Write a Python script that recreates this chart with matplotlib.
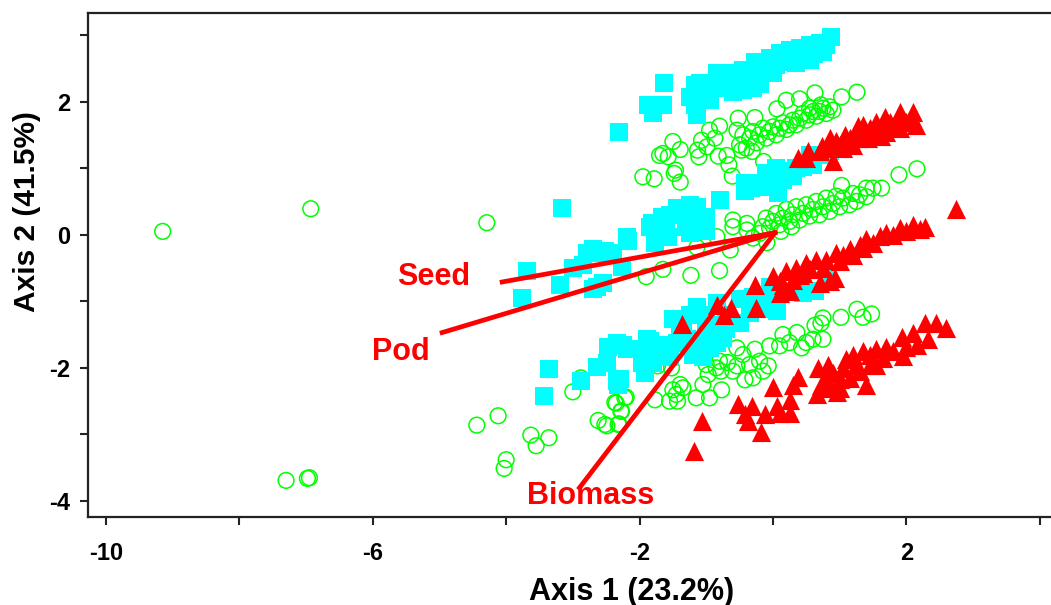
import numpy as np
import matplotlib
matplotlib.use('Agg')
import matplotlib.pyplot as plt

plt.rcParams['font.family'] = ['Liberation Sans', 'DejaVu Sans']

# Values, (axis 1, axis 2)
cyan_pts = [
    (0.87,2.97),(0.70,2.88),(0.55,2.85),(0.40,2.80),(0.25,2.77),(0.10,2.73),(-0.05,2.65),(-0.27,2.6),
    (-0.45,2.47),(-0.6,2.43),(-0.84,2.43),(-1.1,2.28),(-1.17,2.25),(-1.25,2.07),(-1.17,1.95),(-1.14,1.8),
    (-0.95,2.02),(-0.45,2.17),(-0.2,2.27),(0,2.43),(0.35,2.58),(0.55,2.62),(0.75,2.75),(-0.7,2.25),(-1.0,2.25),
    (0.8,2.85),(0.62,2.72),(0.45,2.7),(0.3,2.65),(0.18,2.6),(0.05,2.55),(-0.1,2.48),(-0.25,2.42),(-0.35,2.32),
    (-0.55,2.3),(-0.85,2.2),(-1.05,2.12),(-0.6,2.15),(-0.3,2.2),
    (-1.63,2.28),(-1.87,1.95),(-1.65,1.95),(-1.8,1.83),(-2.31,1.54),(-1.75,1.95),
    (-0.42,0.65),(-0.25,0.78),(-0.1,0.72),(-0.1,0.92),(0.05,1.0),(0.2,0.95),(0.35,1.0),(0.55,1.2),(0.85,1.25),
    (0.7,1.2),(0.0,0.75),(-0.33,0.7),(0.08,0.63),(-0.42,0.78),(0.15,0.82),(0.3,0.88),(0.45,1.02),(0.6,1.05),
    (-0.8,0.52),(-1.44,0.4),(-1.67,0.27),(-1.82,0.18),(-1.14,0.42),(-1.0,0.27),(-1.3,0.12),(-2.19,-0.03),
    (-1.25,0.45),(-1.05,0.2),(-1.4,0.3),(-1.0,0.05),(-1.3,0.3),(-1.55,0.3),(-1.6,0.12),
    (-2.17,-0.1),(-1.77,-0.12),(-1.57,-0.03),(-1.25,0.03),(-2.52,-0.25),(-2.26,-0.48),(-2.55,-0.72),
    (-3.69,-0.54),(-3.76,-0.95),(-3.16,0.4),(-3.19,-0.75),(-3.0,-0.5),(-2.79,-0.27),(-2.7,-0.22),(-2.56,-0.27),
    (-2.64,-0.78),(-2.7,-0.82),(-2.4,-0.27),(-1.84,0.12),(-2.85,-0.45),
    (-3.36,-2.02),(-3.43,-2.43),(-2.88,-2.2),(-2.32,-2.25),(-2.29,-2.17),(-2.64,-1.98),(-2.47,-1.68),(-2.34,-1.62),
    (-2.19,-1.72),(-1.96,-1.92),(-1.89,-1.57),(-2.34,-2.2),(-2.49,-1.92),(-2.25,-1.65),(-1.92,-2.07),(-2.0,-1.72),
    (-1.84,-1.6),(-1.44,-1.62),(-1.05,-1.83),(-0.84,-1.62),(-1.09,-1.62),(-1.5,-1.27),(-1.14,-1.09),(-0.84,-1.02),
    (-0.5,-0.97),(-0.5,-1.32),(0.06,-1.15),(-0.2,-1.12),(-0.05,-0.78),(0.45,-0.87),(0.63,-0.85),(0.81,-0.63),
    (-0.3,-0.93),(-1.35,-1.38),(-1.0,-1.42),(-1.29,-1.57),(-1.54,-1.83),(-1.8,-1.92),(-0.7,-1.42),
    (-1.25,-1.2),(-1.0,-1.2),(-0.7,-1.2),(-0.9,-1.35),(-0.35,-1.18),(-0.1,-1.0),(0.2,-0.85),(-1.6,-1.65),(-1.2,-1.8),
    (-1.75,-1.75),(-0.95,-1.7),(-0.75,-1.55),(-1.4,-1.45),
]

green_pts = [
    (1.26,2.14),(1.03,2.07),(0.63,2.13),(0.40,2.04),(0.2,2.02),(0.06,1.89),
    (-0.5,1.35),(-0.45,1.5),(-0.4,1.3),(-0.35,1.45),(-0.3,1.55),(-0.25,1.38),(-0.2,1.5),(-0.15,1.6),(-0.1,1.45),
    (-0.05,1.55),(0.0,1.62),(0.05,1.5),(0.1,1.6),(0.15,1.68),(0.2,1.58),(0.25,1.65),(0.3,1.72),(0.35,1.65),
    (0.4,1.75),(0.45,1.82),(0.5,1.72),(0.55,1.8),(0.6,1.85),(0.65,1.78),(0.7,1.85),(0.75,1.9),(0.8,1.82),
    (0.85,1.92),(0.9,1.87),(0.72,1.95),(0.55,1.9),
    (-0.52,1.75),(-0.27,1.76),(-0.54,1.57),(-0.8,1.63),(-0.95,1.57),(-0.87,1.45),(-1.07,1.42),(-0.99,1.32),
    (-1.11,1.17),(-1.13,1.27),(-0.69,1.19),(-0.82,1.18),(-0.66,1.05),(-0.61,0.88),(-0.47,1.27),(-0.31,1.25),
    (-0.14,1.1),(-1.39,1.28),(-1.5,1.4),(-1.57,1.17),(-1.65,1.22),(-1.7,1.19),(-1.48,0.92),(-1.46,0.97),
    (-1.39,0.79),(-1.95,0.87),(-1.78,0.84),
    (2.16,0.99),(1.89,0.9),(1.63,0.7),(1.5,0.7),(1.4,0.7),(1.4,0.57),(1.03,0.74),
    (1.3,0.6),(1.25,0.5),(1.2,0.62),(1.15,0.45),(1.05,0.55),(1.0,0.42),(0.95,0.58),(0.9,0.47),(0.85,0.35),
    (0.8,0.55),(0.75,0.42),(0.7,0.3),(0.65,0.5),(0.6,0.38),(0.55,0.28),(0.5,0.45),(0.45,0.32),(0.4,0.22),
    (0.35,0.42),(0.3,0.3),(0.25,0.2),(0.2,0.38),(0.15,0.25),(0.1,0.15),(0.05,0.32),(0.0,0.2),(-0.05,0.1),
    (-0.1,0.25),(-0.15,0.12),(-0.2,0.02),(0.12,0.05),(0.28,0.12),
    (-0.8,-0.54),(-1.23,-0.61),(-1.65,-0.52),(-1.9,-0.63),(-0.64,-0.23),(-0.09,-0.12),(-0.84,-0.03),(-0.6,0.22),
    (-0.6,0.12),(-0.39,0.17),(-0.39,0.07),(-1.14,-0.19),(-0.3,-0.05),
    (1.48,-1.19),(1.35,-1.24),(1.26,-1.12),(1.02,-1.24),(0.75,-1.25),(0.72,-1.33),(0.63,-1.36),(0.75,-1.57),(0.6,-1.57),
    (0.43,-1.7),(0.36,-1.47),(0.15,-1.5),(0.1,-1.67),(-0.05,-1.67),(0.25,-1.62),(0.5,-1.62),(-0.54,-1.7),(-0.27,-1.72),
    (-0.45,-1.8),(-0.2,-1.9),(-0.07,-1.97),(-0.8,-1.9),(-0.68,-1.92),(-0.54,-1.97),(-0.85,-2.0),(-0.78,-2.05),
    (-0.97,-2.1),(-1.0,-1.95),(-0.42,-2.18),(-0.3,-2.15),(-0.77,-2.33),(-1.05,-2.25),(-0.95,-2.45),(-1.15,-2.45),
    (-1.39,-2.25),(-1.5,-2.33),(-1.55,-2.5),(-1.43,-2.5),(-1.77,-2.48),(-1.52,-2.0),(-1.73,-1.97),
    (-1.35,-2.3),(-1.45,-2.4),(-0.6,-2.05),(-0.35,-1.95),(-0.15,-2.05),
    (-2.22,-2.45),(-2.37,-2.52),(-2.27,-2.65),(-2.32,-2.85),(-2.52,-2.85),
    (-4.29,0.18),(-4.44,-2.86),(-4.12,-2.72),(-3.63,-3.01),(-3.36,-3.05),(-3.55,-3.17),(-4.0,-3.38),(-4.03,-3.51),
    (-3.0,-2.36),(-2.88,-2.15),(-2.62,-2.79),(-2.49,-2.87),(-2.31,-2.84),(-2.28,-2.65),(-2.35,-2.53),(-2.2,-2.44),
    (-9.15,0.05),(-6.93,0.39),(-7.3,-3.69),(-6.95,-3.65),(-6.98,-3.66),
]

red_pts = [
    (2.1,1.85),(1.9,1.85),(2.1,1.7),(2.15,1.65),(2.0,1.7),(1.85,1.65),(1.75,1.7),(1.68,1.77),(1.6,1.6),(1.55,1.7),
    (1.45,1.6),(1.35,1.65),(1.27,1.63),(1.3,1.45),(1.15,1.45),(1.08,1.5),(0.95,1.4),(0.85,1.45),(0.73,1.33),
    (0.7,1.25),(0.9,1.1),(0.52,1.25),(0.37,1.15),(0.5,1.15),(1.05,1.3),(1.2,1.35),(1.5,1.5),(1.7,1.55),(1.9,1.6),
    (1.78,1.62),(1.62,1.48),(1.42,1.45),(1.25,1.52),(1.0,1.35),(0.8,1.3),
    (2.74,0.38),(2.28,0.12),(2.1,0.15),(1.9,0.1),(2.2,0.08),(2.0,0.05),(1.8,0.0),(1.7,0.03),(1.6,-0.02),(1.4,-0.07),
    (1.5,-0.12),(1.3,-0.15),(1.15,-0.22),(1.05,-0.3),(0.95,-0.28),(0.8,-0.38),(0.65,-0.38),(0.5,-0.42),(0.55,-0.52),
    (0.35,-0.5),(0.2,-0.55),(0.1,-0.7),(1.2,-0.3),(1.35,-0.2),(1.0,-0.4),(0.75,-0.5),(0.4,-0.6),(0.3,-0.68),
    (-0.27,-0.75),(0.1,-0.87),(0,-0.62),(0.7,-0.72),(0.93,-0.65),(0.25,-0.85),(0.15,-0.75),(0.45,-0.57),(0.85,-0.7),
    (-0.84,-1.05),(-0.63,-1.1),(-0.73,-1.2),(-0.25,-1.1),(-1.37,-1.34),
    (2.6,-1.4),(2.45,-1.33),(2.28,-1.33),(2.33,-1.57),(2.1,-1.48),(1.93,-1.53),(2.16,-1.65),(1.95,-1.82),(1.7,-1.68),
    (1.55,-1.72),(1.4,-2.25),(1.45,-1.8),(1.35,-1.75),(1.2,-1.8),(1.1,-1.87),(1.0,-2.17),(0.96,-2.37),(0.66,-2.4),
    (0.68,-2.0),(0.82,-1.95),(0.9,-2.08),(1.15,-2.15),(0.72,-2.25),(0.85,-2.3),(1.25,-1.95),(1.55,-1.95),
    (2.0,-1.68),(1.8,-1.75),(1.65,-1.85),(1.45,-1.95),(1.3,-2.05),(1.05,-2.0),(0.8,-2.15),(1.0,-2.3),
    (0.37,-2.13),(0.3,-2.25),(0,-2.28),(0.25,-2.48),(0.25,-2.68),(0.06,-2.58),(-0.12,-2.7),(0.1,-2.68),(-0.32,-2.58),
    (-0.52,-2.55),(-0.42,-2.7),(-0.37,-2.8),(-0.18,-2.97),(-1.07,-2.8),(-1.18,-3.25),
]

loading_names = ['Seed', 'Pod', 'Biomass']
loading_x = [-4.06, -4.96, -2.9]
loading_y = [-0.71, -1.47, -3.8]
origin = (0.03, 0.03)

x_ticks = [-10, -8, -6, -4, -2, 0, 2, 4]
x_labels = ['-10', '', '-6', '', '-2', '', '2', '']
y_ticks = [-4, -3, -2, -1, 0, 1, 2, 3]
y_labels = ['-4', '', '-2', '', '0', '', '2', '']

W, H = 1051, 605
fig = plt.figure(figsize=(W / 100, H / 100), dpi=100)
ax = fig.add_axes([88 / W, 1 - 517 / H, (W - 88) / W, (517 - 13) / H])
ax.set_xlim(-10.27, 4.17)
ax.set_ylim(-4.24, 3.33)

green = np.array(green_pts)
cyan = np.array(cyan_pts)
red = np.array(red_pts)
ax.scatter(green[:, 0], green[:, 1], s=128, facecolors='none', edgecolors='#00ff00', linewidths=1.1, zorder=2)
ax.scatter(cyan[:, 0], cyan[:, 1], s=165, marker='s', c='#00ffff', linewidths=0, zorder=3)
ax.scatter(red[:, 0], red[:, 1], s=190, marker='^', c='#ff0000', linewidths=0, zorder=4)

# Loadings drawn from the origin
for lx, ly in zip(loading_x, loading_y):
    ax.plot([origin[0], lx], [origin[1], ly], color='#ff0000', lw=3.4, zorder=5)

ax.text(-5.08, -0.63, loading_names[0], color='#ff0000', fontsize=22, fontweight='bold', ha='center', va='center', zorder=6)
ax.text(-5.58, -1.76, loading_names[1], color='#ff0000', fontsize=22, fontweight='bold', ha='center', va='center', zorder=6)
ax.text(-2.73, -3.93, loading_names[2], color='#ff0000', fontsize=22, fontweight='bold', ha='center', va='center', zorder=6)

ax.set_xticks(x_ticks)
ax.set_xticklabels(x_labels, fontsize=17, fontweight='bold')
ax.set_yticks(y_ticks)
ax.set_yticklabels(y_labels, fontsize=17, fontweight='bold')
ax.tick_params(axis='x', length=6, width=1.5, color='#222222', pad=12)
ax.tick_params(axis='y', length=6, width=1.5, color='#222222', pad=7)
for side in ['left', 'top', 'bottom']:
    ax.spines[side].set_linewidth(1.6)
    ax.spines[side].set_color('#222222')
ax.spines['right'].set_visible(False)

fig.text(632 / W, 1 - 592 / H, 'Axis 1 (23.2%)', fontsize=22, fontweight='bold', ha='center', va='center')
fig.text(27 / W, 1 - 212 / H, 'Axis 2 (41.5%)', fontsize=21.5, fontweight='bold', ha='center', va='center', rotation=90)

fig.savefig('out.png', dpi=100)
